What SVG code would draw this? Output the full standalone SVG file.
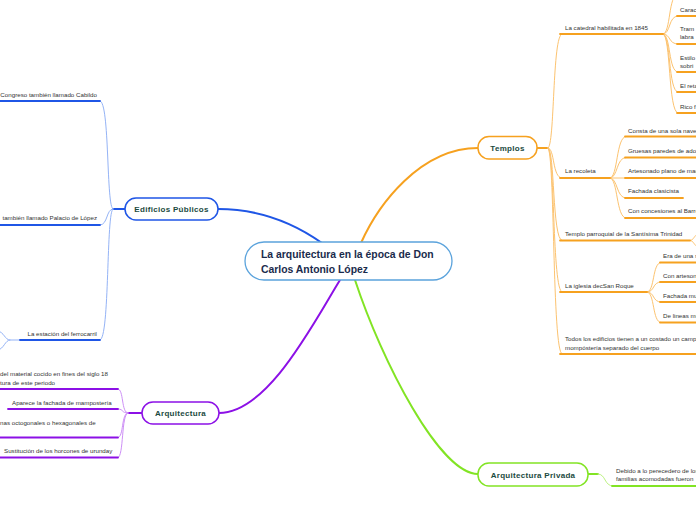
<svg xmlns="http://www.w3.org/2000/svg" width="696" height="520" viewBox="0 0 696 520">
<style>
.t{font-family:"Liberation Sans",Arial,sans-serif;font-size:6.2px;fill:#333}
.e{text-anchor:end}
.ttl{font-family:"Liberation Sans",Arial,sans-serif;font-weight:bold;font-size:8px;fill:#1b4a3e;text-anchor:middle;letter-spacing:0.3px}
.main{font-family:"Liberation Sans",Arial,sans-serif;font-weight:bold;font-size:10.4px;fill:#1a2b4c}
.thin{fill:none;stroke-width:1;stroke-linecap:round}
.ul{fill:none;stroke-width:1.8;stroke-linecap:round}
.big{fill:none;stroke-width:2;stroke-linecap:round}
.o{stroke:#fcc370}.O{stroke:#f6a11f}
.b{stroke:#94b3f6}.B{stroke:#1f56e6}
.p{stroke:#cd8ff6}.P{stroke:#8c10e6}
.g{stroke:#bdf283}.G{stroke:#82e424}
</style>
<rect width="696" height="520" fill="#fff"/>
<g id="connectors">
<path class="big B" d="M218,209 C262,209 298,226 322,243"/>
<path class="big O" d="M361,243 C378,205 420,148 478,148"/>
<path class="big P" d="M219,413 C268,413 314,322 340,280"/>
<path class="big G" d="M355,280 C382,362 440,474 478,474"/>
<!-- Templos -->
<path class="ul O" d="M537,148 L548,148"/>
<path class="thin o" d="M548,148 C555,148 552,34 562,34"/>
<path class="thin o" d="M548,148 C555,148 552,178 562,178"/>
<path class="thin o" d="M548,148 C555,148 552,240 562,240.5"/>
<path class="thin o" d="M548,148 C555,148 552,292 562,292"/>
<path class="thin o" d="M548,148 C555,148 552,354 562,354"/>
<path class="thin o" d="M663,34 C671,34 668,-6 678,-6"/>
<path class="thin o" d="M663,34 C671,34 668,16 678,16"/>
<path class="thin o" d="M663,34 C671,34 668,44 678,44"/>
<path class="thin o" d="M663,34 C671,34 668,72 678,72"/>
<path class="thin o" d="M663,34 C671,34 668,92 678,92"/>
<path class="thin o" d="M663,34 C671,34 668,113 678,113"/>
<path class="thin o" d="M610,178 C618,178 616,136.5 626,136.5"/>
<path class="thin o" d="M610,178 C618,178 616,157.5 626,157.5"/>
<path class="thin o" d="M610,178 L626,178"/>
<path class="thin o" d="M610,178 C618,178 616,198 626,198"/>
<path class="thin o" d="M610,178 C618,178 616,218 626,218"/>
<path class="thin o" d="M690,240.5 C694,240.5 694,235 698,234"/>
<path class="thin o" d="M690,240.5 C694,240.5 694,246 698,247"/>
<path class="thin o" d="M647,292 C655,292 652,262.5 661,262.5"/>
<path class="thin o" d="M647,292 C655,292 652,282 661,282"/>
<path class="thin o" d="M647,292 C655,292 652,302 661,302"/>
<path class="thin o" d="M647,292 C655,292 652,322.5 661,322.5"/>
<!-- Edificios -->
<path class="ul B" d="M125,209 L113,209"/>
<path class="thin b" d="M113,209 C106,209 110,101 100,101"/>
<path class="thin b" d="M113,209 C106,209 108,225 100,225"/>
<path class="thin b" d="M113,209 C106,209 110,340 100,340"/>
<path class="thin b" d="M20,340 L10,340 C5,340 4,332 -2,331"/>
<path class="thin b" d="M10,340 C5,340 4,349 -2,350"/>
<!-- Arquitectura -->
<path class="ul P" d="M142,413 L128,413"/>
<path class="thin p" d="M128,413 C121,413 124,389 118,389"/>
<path class="thin p" d="M128,413 C121,413 124,409 118,409"/>
<path class="thin p" d="M128,413 C121,413 124,437.5 118,437.5"/>
<path class="thin p" d="M128,413 C121,413 124,457.5 118,457.5"/>
<!-- Privada -->
<path class="ul G" d="M588,474 L598,474"/>
<path class="thin g" d="M598,474 C606,474 604,486 613,486"/>
</g>
<g id="central">
<rect x="245" y="242" width="207" height="38" rx="19" fill="#fff" stroke="#5ba3dc" stroke-width="1.3"/>
<text class="main" x="261" y="258.3">La arquitectura en la época de Don</text>
<text class="main" x="261" y="272.5">Carlos Antonio López</text>
</g>
<g id="edificios">
<rect x="125" y="198" width="93" height="22" rx="11" fill="#fff" stroke="#1f56e6" stroke-width="1.5"/>
<text class="ttl" x="171.5" y="212">Edificios Públicos</text>
</g>
<g id="templos">
<rect x="478" y="136.5" width="59" height="22.5" rx="11" fill="#fff" stroke="#f6a11f" stroke-width="1.5"/>
<text class="ttl" x="507.5" y="151">Templos</text>
</g>
<g id="arquitectura">
<rect x="142" y="402" width="77" height="22" rx="11" fill="#fff" stroke="#8c10e6" stroke-width="1.5"/>
<text class="ttl" x="180.5" y="416">Arquitectura</text>
</g>
<g id="privada">
<rect x="478" y="463" width="110" height="23" rx="11" fill="#fff" stroke="#82e424" stroke-width="1.5"/>
<text class="ttl" x="533" y="477.5">Arquitectura Privada</text>
</g>
<g id="templos-children">
<path class="ul O" d="M560,34 H663"/>
<text class="t" x="565" y="30.2">La catedral habilitada en 1845</text>
<path class="ul O" d="M677,16 H700"/><text class="t" x="680" y="11.5">Caract</text>
<path class="ul O" d="M677,44 H700"/><text class="t" x="680" y="31.3">Tram</text><text class="t" x="680" y="39.3">labra</text>
<path class="ul O" d="M677,72 H700"/><text class="t" x="680" y="59.5">Estilo</text><text class="t" x="680" y="67.8">sobri</text>
<path class="ul O" d="M677,92 H700"/><text class="t" x="680" y="88">El reta</text>
<path class="ul O" d="M677,113 H700"/><text class="t" x="680" y="108.5">Rico f</text>
<path class="ul O" d="M560,178 H610"/>
<text class="t" x="565" y="173.4">La recoleta</text>
<path class="ul O" d="M625,136.5 H700"/><text class="t" x="628" y="132.8">Consta  de una sola nave</text>
<path class="ul O" d="M625,157.5 H700"/><text class="t" x="628" y="153">Gruesas  paredes de adobe</text>
<path class="ul O" d="M625,178 H700"/><text class="t" x="628" y="173.4">Artesonado plano de madera</text>
<path class="ul O" d="M625,198 H683"/><text class="t" x="628" y="193">Fachada clasicista</text>
<path class="ul O" d="M625,218 H700"/><text class="t" x="628" y="213">Con concesiones al Barroco</text>
<path class="ul O" d="M560,240.5 H690"/>
<text class="t" x="565" y="236">Templo parroquial de la Santísima Trinidad</text>
<path class="ul O" d="M560,292 H647"/>
<text class="t" x="565" y="287.8">La iglesia decSan Roque</text>
<path class="ul O" d="M660,262.5 H700"/><text class="t" x="663" y="258">Era de una sola</text>
<path class="ul O" d="M660,282 H700"/><text class="t" x="663" y="277.5">Con artesonado</text>
<path class="ul O" d="M660,302 H700"/><text class="t" x="663" y="297.5">Fachada muy</text>
<path class="ul O" d="M660,322.5 H700"/><text class="t" x="663" y="318">De  lineas muy</text>
<path class="ul O" d="M560,354 H700"/>
<text class="t" x="565" y="340.5">Todos los edificios tienen a un costado un campanario de</text>
<text class="t" x="565" y="349.5">mompóstería separado del cuerpo</text>
</g>
<g id="edificios-children">
<path class="ul B" d="M-2,101 H100"/><text class="t e" x="97" y="96.5">Congreso también llamado Cabildo</text>
<path class="ul B" d="M-2,225 H100"/><text class="t e" x="97" y="220">también llamado Palacio de López</text>
<path class="ul B" d="M20,340 H100"/><text class="t e" x="97" y="335.5">La estación del ferrocarril</text>
</g>
<g id="arquitectura-children">
<path class="ul P" d="M-2,389 H118"/>
<text class="t" x="0" y="375.5">del material cocido en fines del siglo 18</text>
<text class="t" x="0" y="384.5">tura de este periodo</text>
<path class="ul P" d="M8,409 H118"/><text class="t" x="12" y="404.5">Aparece la fachada de mampostería</text>
<path class="ul P" d="M-2,437.5 H118"/><text class="t" x="0" y="424.5">nas octogonales o hexagonales de</text>
<path class="ul P" d="M-2,457.5 H118"/><text class="t" x="4" y="453">Sustitución de los horcones de urunday</text>
</g>
<g id="privada-children">
<path class="ul G" d="M612,486 H700"/>
<text class="t" x="616" y="473">Debido a lo perecedero de los</text>
<text class="t" x="616" y="481">familias acomodadas fueron</text>
</g>
</svg>
